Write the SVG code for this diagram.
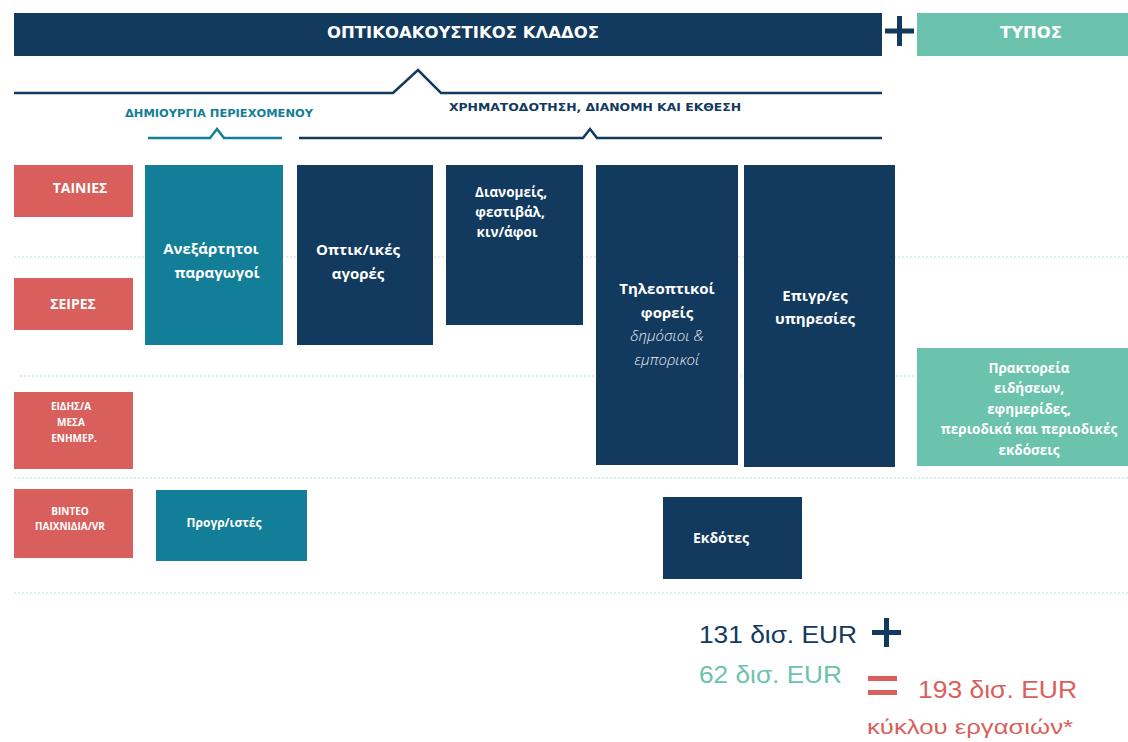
<svg xmlns="http://www.w3.org/2000/svg" width="1128" height="742" viewBox="0 0 1128 742">
<style>
.navy{fill:#12395e}
.teal{fill:#137e98}
.red{fill:#d95f5c}
.green{fill:#6cc3ad}
.hdr{font-family:"DejaVu Sans Condensed","DejaVu Sans",sans-serif;font-weight:bold;fill:#fff;text-anchor:middle;dominant-baseline:central}
.lbl{font-family:"DejaVu Sans Condensed","DejaVu Sans",sans-serif;font-weight:bold;text-anchor:middle;dominant-baseline:central}
.bx{font-family:"Open Sans","DejaVu Sans",sans-serif;font-weight:bold;fill:#fff;text-anchor:middle;dominant-baseline:central}
.it{font-family:"Open Sans","DejaVu Sans",sans-serif;font-style:italic;font-weight:300;fill:#e8eef4;text-anchor:middle;dominant-baseline:central}
.dot{stroke:#b5e0d4;stroke-width:1.2;stroke-dasharray:2 2;fill:none}
.br{fill:none;stroke-width:2.5;stroke-linejoin:miter}
.num{font-family:"Liberation Sans",Arial,sans-serif;dominant-baseline:central}
</style>

<g id="gridlines">
<line class="dot" x1="14" y1="257" x2="1128" y2="257"/>
<line class="dot" x1="20" y1="376" x2="916" y2="376"/>
<line class="dot" x1="14" y1="478" x2="1128" y2="478"/>
<line class="dot" x1="14" y1="593" x2="1128" y2="593"/>
</g>

<g id="header-av">
<rect class="navy" x="14" y="13" width="868" height="43"/>
<text class="hdr" x="463" y="33" font-size="15" textLength="272" lengthAdjust="spacingAndGlyphs">ΟΠΤΙΚΟΑΚΟΥΣΤΙΚΟΣ ΚΛΑΔΟΣ</text>
</g>
<g id="plus-top">
<rect class="navy" x="897" y="16" width="5" height="30"/>
<rect class="navy" x="885" y="28.5" width="29" height="5"/>
</g>
<g id="header-press">
<rect class="green" x="917" y="13" width="211" height="43"/>
<text class="hdr" x="1031" y="33" font-size="15" textLength="62" lengthAdjust="spacingAndGlyphs">ΤΥΠΟΣ</text>
</g>

<g id="connectors">
<path class="br" stroke="#12395e" d="M14,93 H393 L418,70 L441,93 H882"/>
<path class="br" stroke="#137e98" d="M148,138 H210 L217,129 L224,138 H282" stroke-width="2.5"/>
<path class="br" stroke="#12395e" d="M299,138 H583 L590,129 L597,138 H882"/>
</g>

<g id="label-content">
<text class="lbl" x="219" y="113" font-size="11" fill="#137e98" textLength="188" lengthAdjust="spacingAndGlyphs">ΔΗΜΙΟΥΡΓΙΑ ΠΕΡΙΕΧΟΜΕΝΟΥ</text>
</g>
<g id="label-finance">
<text class="lbl" x="595" y="107" font-size="11" fill="#12395e" textLength="292" lengthAdjust="spacingAndGlyphs">ΧΡΗΜΑΤΟΔΟΤΗΣΗ, ΔΙΑΝΟΜΗ ΚΑΙ ΕΚΘΕΣΗ</text>
</g>

<g id="row-films">
<rect class="red" x="14" y="165" width="119" height="52"/>
<text class="bx" x="80" y="187" font-size="14">ΤΑΙΝΙΕΣ</text>
</g>
<g id="row-series">
<rect class="red" x="14" y="278" width="119" height="52"/>
<text class="bx" x="73" y="303" font-size="14">ΣΕΙΡΕΣ</text>
</g>
<g id="row-news">
<rect class="red" x="14" y="392" width="119" height="77"/>
<text class="bx" x="71" y="406" font-size="10">ΕΙΔΗΣ/Α</text>
<text class="bx" x="71" y="422" font-size="10">ΜΕΣΑ</text>
<text class="bx" x="74" y="438" font-size="10">ΕΝΗΜΕΡ.</text>
</g>
<g id="row-games">
<rect class="red" x="14" y="489" width="119" height="69"/>
<text class="bx" x="70" y="511" font-size="10">ΒΙΝΤΕΟ</text>
<text class="bx" x="70" y="526" font-size="10">ΠΑΙΧΝΙΔΙΑ/VR</text>
</g>

<g id="node-producers">
<rect class="teal" x="145" y="165" width="138" height="180"/>
<text class="bx" x="211" y="248" font-size="15">Ανεξάρτητοι</text>
<text class="bx" x="217" y="272" font-size="15">παραγωγοί</text>
</g>
<g id="node-markets">
<rect class="navy" x="297" y="165" width="136" height="180"/>
<text class="bx" x="358" y="249" font-size="15">Οπτικ/ικές</text>
<text class="bx" x="358" y="273" font-size="15">αγορές</text>
</g>
<g id="node-distributors">
<rect class="navy" x="446" y="165" width="137" height="160"/>
<text class="bx" x="511" y="192" font-size="13.5">Διανομείς,</text>
<text class="bx" x="510" y="212" font-size="13.5">φεστιβάλ,</text>
<text class="bx" x="507" y="232" font-size="13.5">κιν/άφοι</text>
</g>
<g id="node-broadcasters">
<rect class="navy" x="596" y="165" width="142" height="300"/>
<text class="bx" x="667" y="288" font-size="15">Τηλεοπτικοί</text>
<text class="bx" x="667" y="312" font-size="15">φορείς</text>
<text class="it" x="667" y="335" font-size="15">δημόσιοι &amp;</text>
<text class="it" x="667" y="359" font-size="15">εμπορικοί</text>
</g>
<g id="node-services">
<rect class="navy" x="744" y="165" width="151" height="302"/>
<text class="bx" x="815" y="295" font-size="15">Επιγρ/ες</text>
<text class="bx" x="815" y="318" font-size="15">υπηρεσίες</text>
</g>
<g id="node-agencies">
<rect class="green" x="917" y="348" width="211" height="118"/>
<text class="bx" x="1029" y="368" font-size="13.5">Πρακτορεία</text>
<text class="bx" x="1029" y="388" font-size="13.5">ειδήσεων,</text>
<text class="bx" x="1029" y="409" font-size="13.5">εφημερίδες,</text>
<text class="bx" x="1029" y="429" font-size="13.5">περιοδικά και περιοδικές</text>
<text class="bx" x="1029" y="450" font-size="13.5">εκδόσεις</text>
</g>
<g id="node-programmers">
<rect class="teal" x="156" y="490" width="151" height="71"/>
<text class="bx" x="224" y="522" font-size="12">Προγρ/ιστές</text>
</g>
<g id="node-publishers">
<rect class="navy" x="663" y="497" width="139" height="82"/>
<text class="bx" x="721" y="537" font-size="14">Εκδότες</text>
</g>

<g id="totals">
<text class="num" x="699" y="635" font-size="23" fill="#12395e" textLength="158" lengthAdjust="spacingAndGlyphs">131 δισ. EUR</text>
<rect class="navy" x="884" y="618" width="5" height="29"/>
<rect class="navy" x="872" y="630" width="29" height="5"/>
<text class="num" x="699" y="675" font-size="23" fill="#6cc3ad" textLength="143" lengthAdjust="spacingAndGlyphs">62 δισ. EUR</text>
<rect class="red" x="868" y="676" width="29" height="5"/>
<rect class="red" x="868" y="690" width="29" height="5"/>
<text class="num" x="918" y="690" font-size="23" fill="#d95f5c" textLength="159" lengthAdjust="spacingAndGlyphs">193 δισ. EUR</text>
<text class="num" x="867" y="727" font-size="20" fill="#d95f5c" textLength="206" lengthAdjust="spacingAndGlyphs">κύκλου εργασιών*</text>
</g>
</svg>
